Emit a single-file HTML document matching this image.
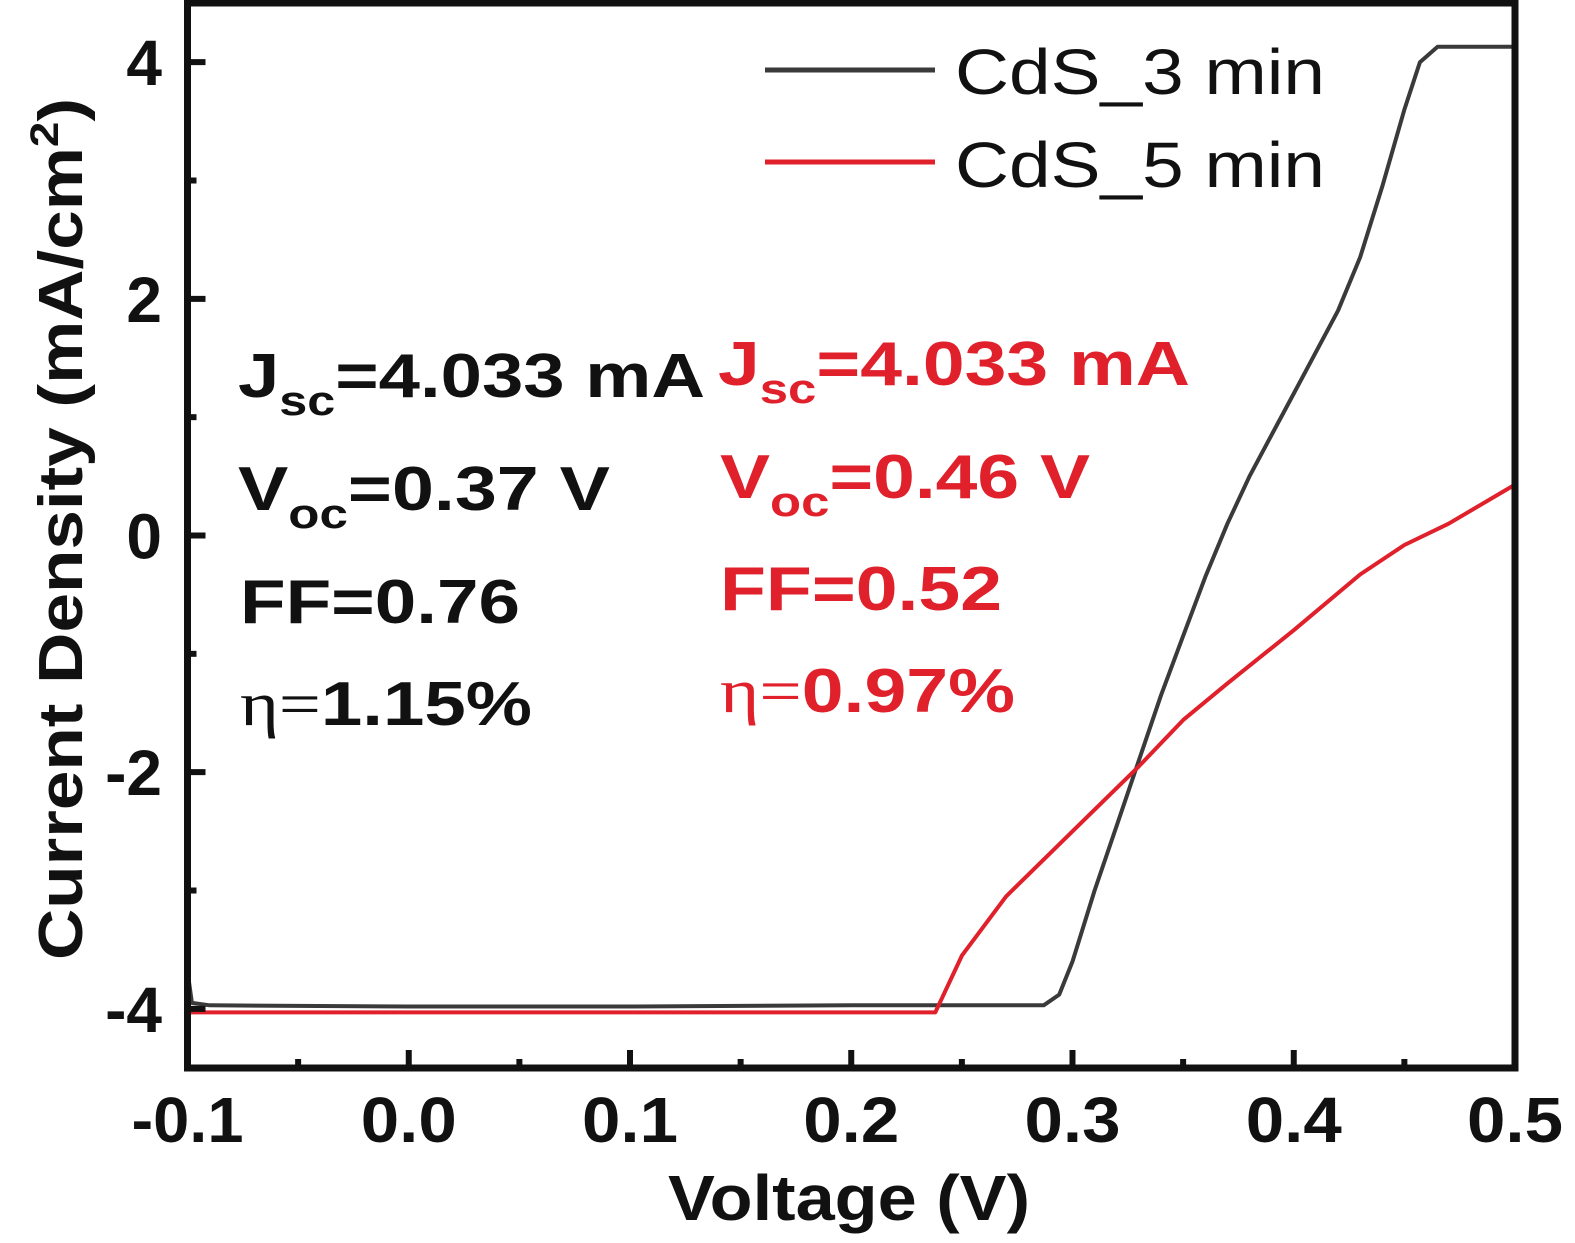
<!DOCTYPE html>
<html><head><meta charset="utf-8"><style>
body{margin:0;background:#fff;}
svg{display:block;font-family:"Liberation Sans",Arial,sans-serif;font-weight:bold;}
</style></head><body>
<svg width="1575" height="1243" viewBox="0 0 1575 1243">
<g id="marks"></g>
<g id="axes"></g>
<g>
<line x1="765" y1="70" x2="935" y2="70" stroke="#3a3a3a" stroke-width="5"/>
<text x="955" y="94" font-size="64" font-weight="normal" fill="#111" textLength="370" lengthAdjust="spacingAndGlyphs">CdS_3 min</text>
<line x1="765" y1="162" x2="935" y2="162" stroke="#e0202a" stroke-width="5"/>
<text x="955" y="187" font-size="64" font-weight="normal" fill="#111" textLength="370" lengthAdjust="spacingAndGlyphs">CdS_5 min</text>
</g>
<g font-size="62" fill="#111">
<text x="238" y="397" textLength="467" lengthAdjust="spacingAndGlyphs">J<tspan font-size="42" dy="18">sc</tspan><tspan dy="-18">=4.033 mA</tspan></text>
<text x="238" y="510" textLength="372" lengthAdjust="spacingAndGlyphs">V<tspan font-size="42" dy="18">oc</tspan><tspan dy="-18">=0.37 V</tspan></text>
<text x="240" y="623" textLength="280" lengthAdjust="spacingAndGlyphs">FF=0.76</text>
<text x="240" y="725" textLength="292" lengthAdjust="spacingAndGlyphs"><tspan font-weight="normal" font-family="Liberation Serif,serif">η=</tspan>1.15%</text>
</g>
<g font-size="62" fill="#e0202a">
<text x="718" y="385" textLength="472" lengthAdjust="spacingAndGlyphs">J<tspan font-size="42" dy="18">sc</tspan><tspan dy="-18">=4.033 mA</tspan></text>
<text x="720" y="498" textLength="370" lengthAdjust="spacingAndGlyphs">V<tspan font-size="42" dy="18">oc</tspan><tspan dy="-18">=0.46 V</tspan></text>
<text x="720" y="610" textLength="282" lengthAdjust="spacingAndGlyphs">FF=0.52</text>
<text x="720" y="712" textLength="295" lengthAdjust="spacingAndGlyphs"><tspan font-weight="normal" font-family="Liberation Serif,serif">η=</tspan>0.97%</text>
</g>
<text x="668" y="1220" font-size="64" fill="#111" textLength="362" lengthAdjust="spacingAndGlyphs">Voltage (V)</text>
<text transform="translate(82,960) rotate(-90)" font-size="62" fill="#111" textLength="862" lengthAdjust="spacingAndGlyphs">Current Density (mA/cm<tspan font-size="40" dy="-24">2</tspan><tspan dy="24">)</tspan></text>
</svg>
<script>
const xTicks=[-0.1,0,0.1,0.2,0.3,0.4,0.5];
const xTickLabels=["-0.1","0.0","0.1","0.2","0.3","0.4","0.5"];
const yTicks=[-4,-2,0,2,4];
const yTickLabels=["-4","-2","0","2","4"];
const v3=[-0.1,-0.098,-0.09,0.0,0.1,0.2,0.28,0.287,0.294,0.30,0.31,0.32,0.33,0.34,0.35,0.36,0.37,0.38,0.39,0.40,0.41,0.42,0.43,0.44,0.45,0.457,0.465,0.5];
const j3=[-3.68,-3.95,-3.97,-3.98,-3.98,-3.97,-3.97,-3.97,-3.88,-3.6,-3.0,-2.45,-1.9,-1.35,-0.85,-0.35,0.1,0.5,0.85,1.2,1.55,1.9,2.35,2.95,3.6,4.0,4.13,4.13];
const v5=[-0.1,0.0,0.1,0.2,0.238,0.25,0.27,0.30,0.33,0.35,0.37,0.40,0.43,0.45,0.47,0.5];
const j5=[-4.03,-4.03,-4.03,-4.03,-4.03,-3.55,-3.05,-2.5,-1.95,-1.56,-1.25,-0.8,-0.33,-0.08,0.1,0.43];
const L=187.5,R=1515,T=3,B=1068,xMin=-0.1,xMax=0.5,yMin=-4.5,yMax=4.5;
const sx=v=>L+(v-xMin)/(xMax-xMin)*(R-L);
const sy=v=>B-(v-yMin)/(yMax-yMin)*(B-T);
const NS="http://www.w3.org/2000/svg";
const marks=document.getElementById('marks'),axes=document.getElementById('axes');
function mk(tag,attrs,parent){const e=document.createElementNS(NS,tag);for(const k in attrs)e.setAttribute(k,attrs[k]);parent.appendChild(e);return e;}
function line(vs,js,color,name){
 const d=vs.map((v,i)=>(i?'L':'M')+sx(v).toFixed(1)+','+sy(js[i]).toFixed(1)).join('');
 const p=mk('path',{d:d,fill:'none',stroke:color,'stroke-width':4,'stroke-linejoin':'round'},marks);
 
 
}
line(v3,j3,'#3a3a3a','series-cds-3min');
line(v5,j5,'#e0202a','series-cds-5min');
const fr=mk('rect',{x:L,y:T,width:R-L,height:B-T,fill:'none',stroke:'#111','stroke-width':7},axes);


for(let i=0;i<xTicks.length;i++){
 const x=sx(xTicks[i]);
 mk('line',{x1:x,y1:B,x2:x,y2:B-18,stroke:'#111','stroke-width':6},axes);
 if(i<xTicks.length-1){const xm=sx(xTicks[i]+0.05);mk('line',{x1:xm,y1:B,x2:xm,y2:B-9,stroke:'#111','stroke-width':6},axes);}
 const t=mk('text',{x:x,y:1142,'font-size':64,'text-anchor':'middle',fill:'#111',textLength:i===0?112:96,lengthAdjust:'spacingAndGlyphs'},axes);
 t.textContent=xTickLabels[i];
 
 
}
for(let i=0;i<yTicks.length;i++){
 const y=sy(yTicks[i]);
 mk('line',{x1:L,y1:y,x2:L+18,y2:y,stroke:'#111','stroke-width':6},axes);
 if(i<yTicks.length-1){const ym=sy(yTicks[i]+1);mk('line',{x1:L,y1:ym,x2:L+9,y2:ym,stroke:'#111','stroke-width':6},axes);}
 const t=mk('text',{x:162,y:y+23,'font-size':64,'text-anchor':'end',fill:'#111'},axes);
 t.textContent=yTickLabels[i];
 
 
}
</script>
</body></html>
